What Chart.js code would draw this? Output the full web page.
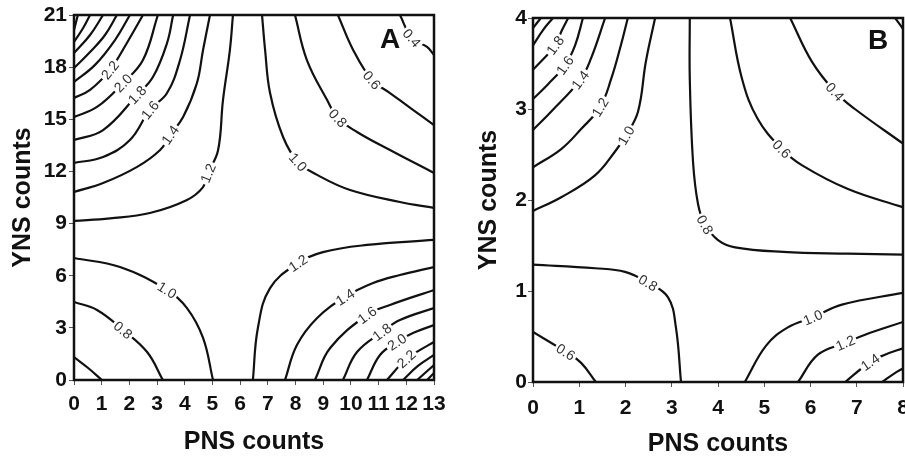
<!DOCTYPE html>
<html>
<head>
<meta charset="utf-8">
<script src="https://cdn.jsdelivr.net/npm/chart.js@4.4.1/dist/chart.umd.min.js"></script>
<style>
  html, body { margin: 0; padding: 0; background: #fff; }
  #wrap { position: relative; width: 905px; height: 459px; overflow: hidden; }
  canvas { position: absolute; top: 0; }
  #chartA { left: 0; }
  #chartB { left: 450px; }
</style>
</head>
<body>
<div id="wrap">
  <canvas id="chartA" width="450" height="459"></canvas>
  <canvas id="chartB" width="455" height="459"></canvas>
</div>
<script>
// Contour plots of PNS vs YNS counts - panels A and B
// Contour points are [PNS, YNS] pairs

const aXTicks = [0, 1, 2, 3, 4, 5, 6, 7, 8, 9, 10, 11, 12, 13];
const aYTicks = [0, 3, 6, 9, 12, 15, 18, 21];
const bXTicks = [0, 1, 2, 3, 4, 5, 6, 7, 8];
const bYTicks = [0, 1, 2, 3, 4];

// Panel A
const aTopLeft = [
    { level: '1.2', pts: [[0, 9.15], [1.3, 9.3], [2.74, 9.61], [4.08, 10.36], [4.66, 11.1], [4.84, 11.9], [5.2, 13.2], [5.38, 16.1], [5.63, 19.0], [5.74, 21]] },
    { level: '1.4', pts: [[0, 10.82], [1.05, 11.33], [2.28, 12.26], [3.11, 13.23], [3.47, 14.1], [3.94, 15.13], [4.44, 17.09], [4.66, 18.99], [4.91, 21]] },
    { level: '1.6', pts: [[0, 12.49], [1.05, 12.83], [2.02, 13.81], [2.74, 15.54], [3.36, 16.51], [3.83, 18.41], [4.19, 21]] },
    { level: '1.8', pts: [[0, 13.81], [1.05, 14.38], [2.28, 16.4], [2.85, 17.43], [3.36, 19.39], [3.58, 21]] },
    { level: '2.0', pts: [[0, 15.13], [0.83, 15.71], [1.77, 17.09], [2.49, 18.41], [3.03, 21]] },
    { level: '2.2', pts: [[0, 16.23], [0.58, 16.69], [1.3, 17.84], [1.91, 19.39], [2.49, 21]] },
    { level: '2.4', pts: [[0, 17.15], [0.76, 18.13], [1.48, 19.56], [2.02, 21]] },
    { level: '2.6', pts: [[0, 17.95], [0.58, 18.87], [1.12, 19.85], [1.55, 21]] },
    { level: '2.8', pts: [[0, 18.81], [0.58, 19.85], [1.05, 21]] },
    { level: '3.0', pts: [[0, 19.45], [0.33, 20.25], [0.58, 21]] },
    { level: '3.2', pts: [[0, 20.14], [0.14, 21]] }
];

const aTopRight = [
    { level: '1.0', pts: [[6.79, 21], [6.9, 19.0], [7.08, 16.51], [7.55, 13.98], [8.09, 12.54], [8.78, 11.8], [9.97, 10.93], [11.77, 10.24], [13, 9.9]] },
    { level: '0.8', pts: [[7.98, 21], [8.41, 18.41], [9.14, 16.11], [9.53, 15.07], [10.22, 14.27], [11.41, 13.23], [13, 11.91]] },
    { level: '0.6', pts: [[9.53, 21], [10.08, 18.99], [10.76, 17.26], [11.41, 16.51], [12.24, 15.54], [13, 14.67]] },
    { level: '0.4', pts: [[11.77, 21], [12.2, 19.68], [12.75, 19.16], [13, 18.7]] }
];

const aBottomLeft = [
    { level: '1.0', pts: [[0, 7.02], [1.66, 6.5], [3.36, 5.18], [4.08, 4.14], [4.66, 2.42], [5.02, 0]] },
    { level: '0.8', pts: [[0, 4.49], [0.83, 4.03], [1.77, 2.88], [2.64, 1.61], [3.21, 0]] },
    { level: '0.6', pts: [[0, 1.32], [0.51, 0.69], [1.01, 0]] }
];

const aBottomRight = [
    { level: '1.2', pts: [[6.46, 0], [6.64, 2.99], [7.08, 5.29], [8.09, 6.73], [8.99, 7.36], [10.58, 7.77], [13, 8.06]] },
    { level: '1.4', pts: [[7.62, 0], [8.05, 2.01], [8.78, 3.57], [9.79, 4.78], [10.8, 5.58], [11.77, 6.04], [13, 6.5]] },
    { level: '1.6', pts: [[8.7, 0], [9.25, 1.84], [10.58, 3.74], [11.41, 4.32], [13, 5.18]] },
    { level: '1.8', pts: [[9.71, 0], [10.22, 1.61], [11.12, 2.76], [11.77, 3.45], [13, 4.14]] },
    { level: '2.0', pts: [[10.58, 0], [11.05, 1.44], [11.66, 2.19], [12.24, 2.7], [13, 3.16]] },
    { level: '2.2', pts: [[11.3, 0], [12.0, 1.22], [12.5, 1.73], [13, 2.19]] },
    { level: '2.4', pts: [[11.88, 0], [12.42, 0.81], [13, 1.44]] },
    { level: '2.6', pts: [[12.39, 0], [13, 0.86]] },
    { level: '2.8', pts: [[12.75, 0], [13, 0.4]] }
];

// Panel B
const bTopLeft = [
    { level: '1.0', pts: [[0, 1.88], [0.61, 2.03], [1.34, 2.27], [1.77, 2.53], [2.01, 2.71], [2.27, 2.97], [2.44, 3.52], [2.64, 4]] },
    { level: '1.2', pts: [[0, 2.36], [0.61, 2.56], [1.04, 2.78], [1.45, 3.02], [1.69, 3.33], [1.9, 3.7], [2.05, 4]] },
    { level: '1.4', pts: [[0, 2.77], [0.39, 2.97], [1.02, 3.32], [1.25, 3.55], [1.56, 4]] },
    { level: '1.6', pts: [[0, 3.11], [0.32, 3.27], [0.69, 3.48], [0.91, 3.7], [1.08, 4]] },
    { level: '1.8', pts: [[0, 3.43], [0.48, 3.7], [0.62, 3.86], [0.76, 4]] },
    { level: '2.0', pts: [[0, 3.7], [0.22, 3.87], [0.43, 4]] },
    { level: '2.2', pts: [[0, 3.89], [0.17, 4]] }
];

const bTopRight = [
    { level: '0.8', pts: [[3.39, 4], [3.39, 3.33], [3.46, 2.42], [3.57, 1.95], [3.72, 1.73], [4.0, 1.56], [4.37, 1.48], [5.41, 1.43], [6.81, 1.41], [8, 1.4]] },
    { level: '0.6', pts: [[4.26, 4], [4.52, 3.33], [4.86, 2.89], [5.38, 2.56], [5.82, 2.38], [6.81, 2.12], [8, 1.92]] },
    { level: '0.4', pts: [[5.56, 4], [6.03, 3.52], [6.53, 3.19], [6.96, 3.0], [8, 2.62]] },
    { level: '0.2', pts: [[7.83, 4], [8, 3.88]] }
];

const bBottomLeft = [
    { level: '0.8', pts: [[0, 1.29], [1.34, 1.25], [1.99, 1.21], [2.49, 1.09], [2.92, 0.93], [3.09, 0.6], [3.2, 0]] },
    { level: '0.6', pts: [[0, 0.55], [0.71, 0.33], [1.04, 0.21], [1.36, 0]] }
];

const bBottomRight = [
    { level: '1.0', pts: [[4.58, 0], [5.04, 0.4], [5.51, 0.6], [6.05, 0.71], [6.68, 0.85], [8, 0.98]] },
    { level: '1.2', pts: [[5.73, 0], [6.16, 0.3], [6.75, 0.43], [7.18, 0.52], [8, 0.66]] },
    { level: '1.4', pts: [[6.75, 0], [7.29, 0.22], [7.61, 0.3], [8, 0.37]] },
    { level: '1.6', pts: [[7.55, 0], [7.8, 0.09], [8, 0.15]] }
];

// inline contour labels: [text, PNS, YNS]
const aLabels = [
    ['2.2', 1.3, 17.84], ['2.0', 1.77, 17.09], ['1.8', 2.28, 16.4], ['1.6', 2.74, 15.54],
    ['1.4', 3.47, 14.1], ['1.2', 4.84, 11.9], ['1.0', 8.09, 12.54], ['0.8', 9.53, 15.07],
    ['0.6', 10.76, 17.26], ['0.4', 12.2, 19.68], ['1.0', 3.36, 5.18], ['0.8', 1.77, 2.88],
    ['1.2', 8.09, 6.73], ['1.4', 9.79, 4.78], ['1.6', 10.58, 3.74], ['1.8', 11.12, 2.76],
    ['2.0', 11.66, 2.19], ['2.2', 12.0, 1.22]
];

const bLabels = [
    ['1.8', 0.48, 3.7], ['1.6', 0.69, 3.48], ['1.4', 1.02, 3.32], ['1.2', 1.45, 3.02],
    ['1.0', 2.01, 2.71], ['0.8', 3.72, 1.73], ['0.6', 5.38, 2.56], ['0.4', 6.53, 3.19],
    ['0.8', 2.49, 1.09], ['0.6', 0.71, 0.33], ['1.0', 6.05, 0.71], ['1.2', 6.75, 0.43],
    ['1.4', 7.29, 0.22]
];

const FONT = '"Liberation Sans", Arial, Helvetica, sans-serif';

function toDatasets(groups) {
    const out = [];
    groups.forEach(group => group.forEach(c => {
        out.push({
            label: c.level,
            data: c.pts.map(p => ({ x: p[0], y: p[1] })),
            showLine: true,
            borderColor: '#111',
            borderWidth: 2.2,
            pointRadius: 0,
            tension: 0.4,
            fill: false
        });
    }));
    return out;
}

// writes the level values along the lines, with a white gap behind them
const contourLabels = {
    id: 'contourLabels',
    afterDatasetsDraw(chart, args, opts) {
        const { ctx } = chart;
        const xs = chart.scales.x, ys = chart.scales.y;
        ctx.save();
        ctx.font = '14px ' + FONT;
        ctx.textAlign = 'center';
        ctx.textBaseline = 'middle';

        opts.labels.forEach(([text, lx, ly]) => {
            const px = xs.getPixelForValue(lx);
            const py = ys.getPixelForValue(ly);
            let best = null;

            chart.data.datasets.forEach(ds => {
                if (ds.label !== text) return;
                const p = ds.data.map(d => [xs.getPixelForValue(d.x), ys.getPixelForValue(d.y)]);
                for (let i = 0; i < p.length - 1; i++) {
                    const dx = p[i + 1][0] - p[i][0];
                    const dy = p[i + 1][1] - p[i][1];
                    let t = ((px - p[i][0]) * dx + (py - p[i][1]) * dy) / (dx * dx + dy * dy);
                    t = Math.max(0, Math.min(1, t));
                    const qx = p[i][0] + t * dx, qy = p[i][1] + t * dy;
                    const d = Math.hypot(px - qx, py - qy);
                    if (!best || d < best.d) {
                        // tangent from the neighbouring points
                        let a = p[i], b = p[i + 1];
                        if (t < 0.5 && i > 0) a = p[i - 1];
                        else if (t >= 0.5 && i + 2 < p.length) b = p[i + 2];
                        best = { d, qx, qy, ang: Math.atan2(b[1] - a[1], b[0] - a[0]) };
                    }
                }
            });
            if (!best) return;

            let ang = best.ang;
            if (ang > Math.PI / 2) ang -= Math.PI;
            if (ang < -Math.PI / 2) ang += Math.PI;

            const w = ctx.measureText(text).width;
            ctx.save();
            ctx.translate(best.qx, best.qy);
            ctx.rotate(ang);
            ctx.fillStyle = '#fff';
            ctx.fillRect(-w / 2 - 2, -6, w + 4, 12);
            ctx.fillStyle = '#333';
            ctx.fillText(text, 0, 1);
            ctx.restore();
        });
        ctx.restore();
    }
};

// box around the plot and the panel letter
const frame = {
    id: 'frame',
    afterDraw(chart, args, opts) {
        const { ctx, chartArea: a } = chart;
        ctx.save();
        ctx.strokeStyle = '#111';
        ctx.lineWidth = 2.5;
        ctx.strokeRect(a.left, a.top, a.right - a.left, a.bottom - a.top);
        ctx.font = 'bold 28px ' + FONT;
        ctx.fillStyle = '#111';
        ctx.textAlign = 'center';
        ctx.textBaseline = 'middle';
        ctx.fillText(opts.letter, a.right + opts.dx, a.top + opts.dy);
        ctx.restore();
    }
};

function makeChart(id, setup) {
    const tickFont = { family: FONT, size: 21, weight: 'bold' };
    const titleFont = { family: FONT, size: 25, weight: 'bold' };

    return new Chart(document.getElementById(id), {
        type: 'scatter',
        data: { datasets: toDatasets(setup.groups) },
        plugins: [contourLabels, frame],
        options: {
            responsive: false,
            animation: false,
            events: [],
            layout: { padding: setup.padding },
            plugins: {
                legend: { display: false },
                tooltip: { enabled: false },
                contourLabels: { labels: setup.labels },
                frame: setup.letter
            },
            scales: {
                x: {
                    type: 'linear',
                    min: setup.xTicks[0],
                    max: setup.xTicks[setup.xTicks.length - 1],
                    afterBuildTicks: s => { s.ticks = setup.xTicks.map(v => ({ value: v })); },
                    afterFit: s => { s.height = setup.xHeight; s.paddingLeft = 0; s.paddingRight = 0; },
                    ticks: { autoSkip: false, maxRotation: 0, minRotation: 0, padding: setup.xTickPad, color: '#111', font: tickFont },
                    grid: { drawOnChartArea: false, drawTicks: true, tickLength: 5, color: '#555', lineWidth: 1 },
                    border: { display: false },
                    title: { display: true, text: 'PNS counts', color: '#111', font: titleFont, padding: { top: 0, bottom: setup.xTitlePad } }
                },
                y: {
                    type: 'linear',
                    min: setup.yTicks[0],
                    max: setup.yTicks[setup.yTicks.length - 1],
                    afterBuildTicks: s => { s.ticks = setup.yTicks.map(v => ({ value: v })); },
                    afterFit: s => { s.width = setup.yWidth; s.paddingTop = 0; s.paddingBottom = 0; },
                    ticks: { autoSkip: false, padding: setup.yTickPad, color: '#111', font: tickFont },
                    grid: { drawOnChartArea: false, drawTicks: true, tickLength: 5, color: '#555', lineWidth: 1 },
                    border: { display: false },
                    title: { display: true, text: 'YNS counts', color: '#111', font: titleFont, padding: { top: setup.yTitlePad, bottom: 0 } }
                }
            }
        }
    });
}

makeChart('chartA', {
    groups: [aTopLeft, aTopRight, aBottomLeft, aBottomRight],
    labels: aLabels,
    xTicks: aXTicks,
    yTicks: aYTicks,
    padding: { left: 0, right: 16, top: 15, bottom: 0 },
    xHeight: 79, yWidth: 74,
    xTickPad: 7, yTickPad: 2,
    xTitlePad: 2, yTitlePad: 8,
    letter: { letter: 'A', dx: -44, dy: 25 }
});

makeChart('chartB', {
    groups: [bTopLeft, bTopRight, bBottomLeft, bBottomRight],
    labels: bLabels,
    xTicks: bXTicks,
    yTicks: bYTicks,
    padding: { left: 0, right: 2, top: 18, bottom: 0 },
    xHeight: 77, yWidth: 83,
    xTickPad: 9, yTickPad: 1,
    xTitlePad: 0, yTitlePad: 24,
    letter: { letter: 'B', dx: -25, dy: 23 }
});
</script>
</body>
</html>
